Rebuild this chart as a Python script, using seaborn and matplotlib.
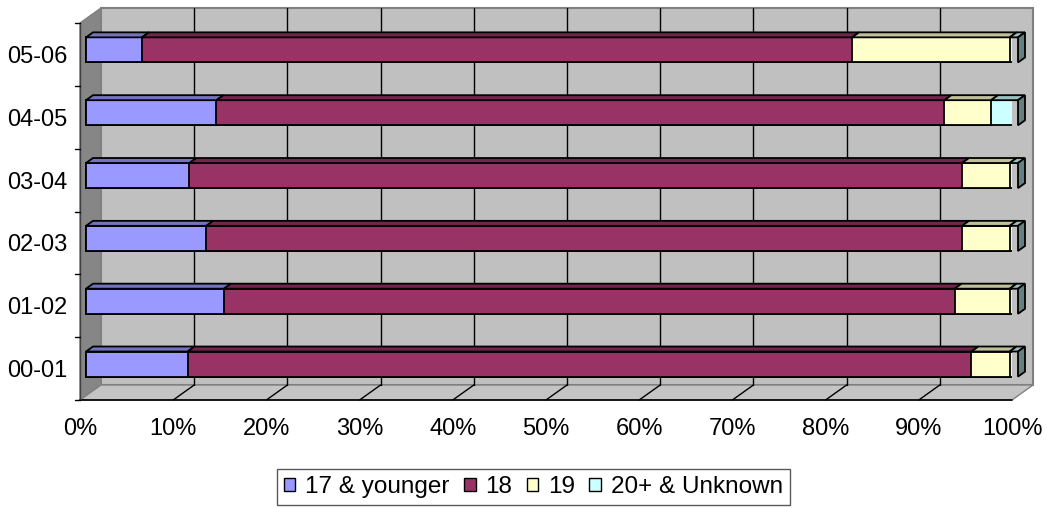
#!/usr/bin/env python3
# -*- coding: utf-8 -*-

import numpy as np
import pandas as pd
import matplotlib
matplotlib.use("Agg")
import matplotlib.pyplot as plt
import seaborn as sns
from matplotlib.patches import Polygon, Patch
from matplotlib.transforms import Affine2D

# values (percent of each year)
years = ["05-06", "04-05", "03-04", "02-03", "01-02", "00-01"]
age_17 = [6.0, 14.0, 11.1, 12.9, 14.8, 10.9]
age_18 = [76.2, 78.1, 82.9, 81.1, 78.4, 84.1]
age_19 = [16.9, 5.0, 5.1, 5.1, 5.9, 4.1]
age_20 = [0.9, 2.9, 0.9, 0.9, 0.9, 0.9]
series = ["17 & younger", "18", "19", "20+ & Unknown"]
colors = ["#9999FF", "#993366", "#FFFFCC", "#CCFFFF"]
x_ticks = np.arange(0, 101, 10)


def shade(hex_col, f):
    rgb = np.array(matplotlib.colors.to_rgb(hex_col)) * f
    return tuple(rgb)


df = pd.DataFrame({"year": years, series[0]: age_17, series[1]: age_18,
                   series[2]: age_19, series[3]: age_20})
cum = df[series].cumsum(axis=1)

sns.set_style("white")
plt.rcParams["font.family"] = ["Liberation Sans", "DejaVu Sans"]
plt.rcParams["text.color"] = "black"
plt.rcParams["xtick.labelcolor"] = "black"
plt.rcParams["ytick.labelcolor"] = "black"

fig = plt.figure(figsize=(10.47, 5.08), dpi=100)
ax = fig.add_axes([80 / 1047, 108 / 508, 932 / 1047, 377 / 508])
ax.set_facecolor("none")

# px per data unit, for the fake 3d depth
W = ax.bbox.width / 100
H = ax.bbox.height / 6


def off(x, y, px, py):
    return (x + px / W, y - py / H)


DEPTH = (21, 15)     # whole chart depth in px
BAR_DEPTH = (7, 5)   # depth of each bar
bar_shift = ax.transData + Affine2D().translate(6, 4.5)

# walls and floor
back = [off(0, 5.5, *DEPTH), off(0, -0.5, *DEPTH),
        off(100, -0.5, *DEPTH), off(100, 5.5, *DEPTH)]
left = [(0, 5.5), (0, -0.5), off(0, -0.5, *DEPTH), off(0, 5.5, *DEPTH)]
floor = [(0, 5.5), (100, 5.5), off(100, 5.5, *DEPTH), off(0, 5.5, *DEPTH)]
ax.add_patch(Polygon(back, fc="#C0C0C0", ec="#808080", lw=1.5, zorder=0, clip_on=False))
ax.add_patch(Polygon(left, fc="#868686", ec="#808080", lw=1, zorder=0, clip_on=False))
ax.add_patch(Polygon(floor, fc="#C4C4C4", ec="#808080", lw=1, zorder=0, clip_on=False))

for t in x_ticks[1:-1]:
    bx, by0 = off(t, 5.5, *DEPTH)
    _, by1 = off(t, -0.5, *DEPTH)
    ax.plot([bx, bx], [by0, by1], color="black", lw=1, zorder=0.5, clip_on=False)
    ax.plot([t, bx], [5.5, by0], color="black", lw=1, zorder=0.5, clip_on=False)

# axis lines and the y ticks at band edges
ax.plot([0, 100], [5.5, 5.5], color="black", lw=1.2, zorder=1, clip_on=False)
ax.plot([0, 0], [-0.5, 5.5], color="#404040", lw=1, zorder=1, clip_on=False)
for b in np.arange(-0.5, 6, 1):
    ax.plot([-5 / W, 0], [b, b], color="black", lw=1, zorder=1, clip_on=False)

# stacked bars: draw cumulative sums from the longest down
for k in reversed(range(len(series))):
    n_before = len(ax.patches)
    sns.barplot(x=cum[series[k]].values, y=df["year"], order=years,
                color=colors[k], saturation=1, orient="h", width=0.4,
                edgecolor="black", linewidth=1.3, ax=ax)
    for p in ax.patches[n_before:]:
        p.set_transform(bar_shift)
        p.set_zorder(3)

# top faces (and the right face of the last segment)
bh = 0.4
for i in range(len(years)):
    for k in range(len(series)):
        x1 = cum[series[k]].iloc[i]
        x0 = 0 if k == 0 else cum[series[k - 1]].iloc[i]
        top = i - bh / 2
        bot = i + bh / 2
        face = [(x0, top), (x1, top), off(x1, top, *BAR_DEPTH), off(x0, top, *BAR_DEPTH)]
        ax.add_patch(Polygon(face, fc=shade(colors[k], 0.75), ec="black", lw=1.3,
                             transform=bar_shift, zorder=3, clip_on=False))
        if k == len(series) - 1:
            side = [(x1, bot), (x1, top), off(x1, top, *BAR_DEPTH), off(x1, bot, *BAR_DEPTH)]
            ax.add_patch(Polygon(side, fc=shade(colors[k], 0.5), ec="black", lw=1.3,
                                 transform=bar_shift, zorder=3, clip_on=False))

ax.set_xlim(0, 100)
ax.set_ylim(5.5, -0.5)
ax.set_xticks(x_ticks)
ax.set_xticklabels([f"{t}%" for t in x_ticks], fontsize=17)
ax.set_yticks(range(len(years)))
ax.set_yticklabels(years, fontsize=17)
ax.tick_params(axis="x", length=5, width=1, color="black", direction="out", pad=8)
ax.tick_params(axis="y", length=0, pad=9)
ax.set_xlabel("")
ax.set_ylabel("")
for s in ax.spines.values():
    s.set_visible(False)

handles = [Patch(fc=c, ec="black", lw=1) for c in colors]
leg = fig.legend(handles=handles, labels=series, loc="center right",
                 bbox_to_anchor=(790 / 1047, 1 - 487 / 508), ncol=4,
                 frameon=True, fancybox=False, edgecolor="#303030",
                 handlelength=0.47, handleheight=0.47, handletextpad=0.4,
                 columnspacing=0.6, borderpad=0.3, borderaxespad=0,
                 fontsize=17.5)
leg.get_frame().set_linewidth(1)

fig.savefig("out.png", dpi=100)
